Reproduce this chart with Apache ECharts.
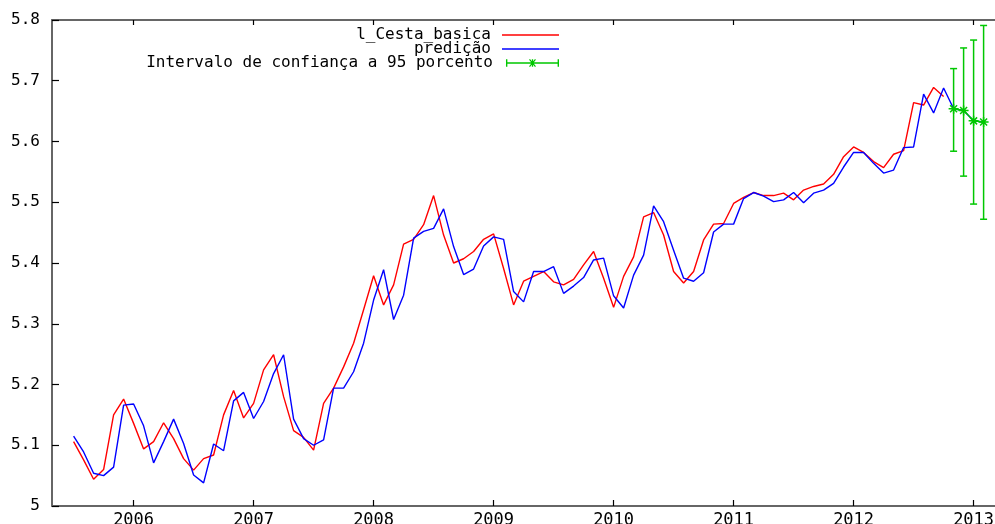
<!DOCTYPE html>
<html>
<head>
<meta charset="utf-8">
<script src="https://cdn.jsdelivr.net/npm/echarts@6/dist/echarts.min.js"></script>
<style>
html,body{margin:0;padding:0;background:#fff;}
#chart{width:995px;height:524px;}
</style>
</head>
<body>
<div id="chart"></div>
<script>
// monthly series starting July 2005 (decimal year 2005.5), step 1/12 year
const startYear = 2005.5;
const monthStep = 1 / 12;
const yearTicks = [2006, 2007, 2008, 2009, 2010, 2011, 2012, 2013];

const cestaBasica = [
  5.106, 5.076, 5.044, 5.060, 5.150, 5.176, 5.136, 5.094, 5.106, 5.137, 5.111, 5.078,
  5.059, 5.078, 5.084, 5.150, 5.190, 5.145, 5.169, 5.224, 5.249, 5.180, 5.124, 5.113,
  5.092, 5.169, 5.194, 5.229, 5.268, 5.323, 5.379, 5.331, 5.364, 5.431, 5.439, 5.463,
  5.511, 5.446, 5.400, 5.407, 5.419, 5.439, 5.448, 5.391, 5.331, 5.370, 5.378, 5.386,
  5.369, 5.364, 5.373, 5.397, 5.419, 5.375, 5.327, 5.378, 5.410, 5.476, 5.483, 5.446,
  5.386, 5.367, 5.386, 5.438, 5.464, 5.465, 5.498, 5.508, 5.516, 5.511, 5.511, 5.515,
  5.504, 5.520, 5.526, 5.530, 5.546, 5.575, 5.591, 5.582, 5.567, 5.557, 5.579, 5.585,
  5.664, 5.660, 5.689, 5.674
];

const predicao = [
  5.115, 5.089, 5.054, 5.050, 5.064, 5.166, 5.168, 5.132, 5.071, 5.106, 5.143, 5.103,
  5.051, 5.038, 5.102, 5.091, 5.173, 5.187, 5.144, 5.172, 5.218, 5.249, 5.143, 5.111,
  5.100, 5.109, 5.194, 5.194, 5.221, 5.268, 5.339, 5.389, 5.307, 5.347, 5.441, 5.452,
  5.457, 5.489, 5.427, 5.381, 5.390, 5.428, 5.443, 5.439, 5.353, 5.336, 5.386, 5.386,
  5.394, 5.350, 5.362, 5.376, 5.405, 5.408, 5.346, 5.326, 5.380, 5.413, 5.494, 5.468,
  5.421, 5.375, 5.370, 5.384, 5.451, 5.464, 5.464, 5.506, 5.516, 5.510, 5.501, 5.504,
  5.516, 5.499, 5.515, 5.520, 5.531, 5.558, 5.582, 5.582, 5.564, 5.548, 5.553, 5.590,
  5.591, 5.678, 5.647, 5.688
];

// out-of-sample forecast (Nov 2012 - Feb 2013)
const forecastCenter = [5.654, 5.651, 5.634, 5.632];
const forecastLow    = [5.584, 5.543, 5.497, 5.472];
const forecastHigh   = [5.720, 5.754, 5.767, 5.791];

const NAME_A = 'l_Cesta_basica';
const NAME_B = 'predição';
const NAME_C = 'Intervalo de confiança a 95 porcento';

const xOf = i => startYear + i * monthStep;
const redData = cestaBasica.map((v, i) => [xOf(i), v]);
const blueData = predicao.concat(forecastCenter).map((v, i) => [xOf(i), v]);
const n0 = cestaBasica.length;
const fcLine = forecastCenter.map((v, i) => [xOf(n0 + i), v]);
const fcBars = forecastCenter.map((v, i) => [xOf(n0 + i), forecastLow[i], forecastHigh[i]]);

const GREEN = '#00c800';
const AXIS_GREY = '#666666';
const FONT = 'DejaVu Sans Mono';

const chart = echarts.init(document.getElementById('chart'), null, {renderer: 'canvas'});

const xMin = 2005.32, xMax = 2013.25;
const pxPerYear = 120;

const legendCommon = {
  orient: 'horizontal',
  align: 'right',
  right: 436,
  padding: 0,
  itemWidth: 57,
  selectedMode: false,
  textStyle: {fontFamily: FONT, fontSize: 16, color: '#000', padding: [0, 6, 0, 0]}
};

const lineIcon = 'rect';
const legendGreenIcon = 'path://M0,0H1.5V8H0Z M55.5,0H57V8H55.5Z M0,3.3H57V4.7H0Z M27.8,0H29.2V8H27.8Z M24.8,0.5L25.8,-0.3L32.2,7.5L31.2,8.3Z M31.2,-0.3L32.2,0.5L25.8,8.3L24.8,7.5Z';
const starPath = 'path://M5,0V10M0,5H10M1.5,1.5L8.5,8.5M8.5,1.5L1.5,8.5';

chart.setOption({
  animation: false,
  backgroundColor: '#ffffff',
  grid: {left: 52, top: 20, width: (xMax - xMin) * pxPerYear, height: 486,
    containLabel: false, outerBoundsMode: 'none'},
  legend: [
    Object.assign({}, legendCommon, {top: 27, itemHeight: 1.6,
      data: [{name: NAME_A, icon: lineIcon, itemStyle: {color: '#ff0000'}}]}),
    Object.assign({}, legendCommon, {top: 41, itemHeight: 1.6,
      data: [{name: NAME_B, icon: lineIcon, itemStyle: {color: '#0000ff'}}]}),
    Object.assign({}, legendCommon, {top: 55, itemHeight: 8,
      data: [{name: NAME_C, icon: legendGreenIcon, itemStyle: {color: GREEN}}]})
  ],
  xAxis: [
    {
      type: 'value', min: xMin, max: xMax, position: 'bottom',
      splitLine: {show: false},
      axisLine: {show: true, lineStyle: {color: AXIS_GREY, width: 2}},
      axisTick: {show: true, inside: true, length: 6, customValues: yearTicks, lineStyle: {color: '#000', width: 1.2}},
      axisLabel: {show: true, customValues: yearTicks, margin: 6, fontFamily: FONT, fontSize: 17, color: '#000',
        formatter: v => String(Math.round(v))}
    },
    {
      type: 'value', min: xMin, max: xMax, position: 'top',
      splitLine: {show: false},
      axisLine: {show: true, lineStyle: {color: AXIS_GREY, width: 2}},
      axisTick: {show: true, inside: true, length: 5, customValues: yearTicks, lineStyle: {color: '#000', width: 1.2}},
      axisLabel: {show: false}
    }
  ],
  yAxis: [
    {
      type: 'value', min: 5, max: 5.8, interval: 0.1, position: 'left',
      splitLine: {show: false},
      axisLine: {show: true, lineStyle: {color: AXIS_GREY, width: 2}},
      axisTick: {show: true, inside: true, length: 7, lineStyle: {color: '#000', width: 1.2}},
      axisLabel: {show: true, margin: 12, fontFamily: FONT, fontSize: 16, color: '#000'}
    }
  ],
  series: [
    {
      name: NAME_A, type: 'line', data: redData, symbol: 'none',
      lineStyle: {color: '#ff0000', width: 1.4}, itemStyle: {color: '#ff0000'}, z: 2
    },
    {
      name: NAME_B, type: 'line', data: blueData, symbol: 'none',
      lineStyle: {color: '#0000ff', width: 1.4}, itemStyle: {color: '#0000ff'}, z: 3
    },
    {
      name: NAME_C, type: 'custom', data: fcBars, z: 4,
      encode: {x: 0, y: [1, 2]},
      renderItem: function (params, api) {
        const x = api.value(0);
        const pLo = api.coord([x, api.value(1)]);
        const pHi = api.coord([x, api.value(2)]);
        const cap = 3.5;
        const st = {stroke: GREEN, lineWidth: 1.5};
        return {type: 'group', children: [
          {type: 'line', shape: {x1: pLo[0], y1: pLo[1], x2: pHi[0], y2: pHi[1]}, style: st},
          {type: 'line', shape: {x1: pLo[0] - cap, y1: pLo[1], x2: pLo[0] + cap, y2: pLo[1]}, style: st},
          {type: 'line', shape: {x1: pHi[0] - cap, y1: pHi[1], x2: pHi[0] + cap, y2: pHi[1]}, style: st}
        ]};
      }
    },
    {
      name: NAME_C, type: 'line', data: fcLine, z: 5,
      symbol: starPath, symbolSize: 10, showSymbol: true,
      lineStyle: {color: GREEN, width: 1.4},
      itemStyle: {color: GREEN, borderColor: GREEN, borderWidth: 1.5}
    }
  ]
});
</script>
</body>
</html>
